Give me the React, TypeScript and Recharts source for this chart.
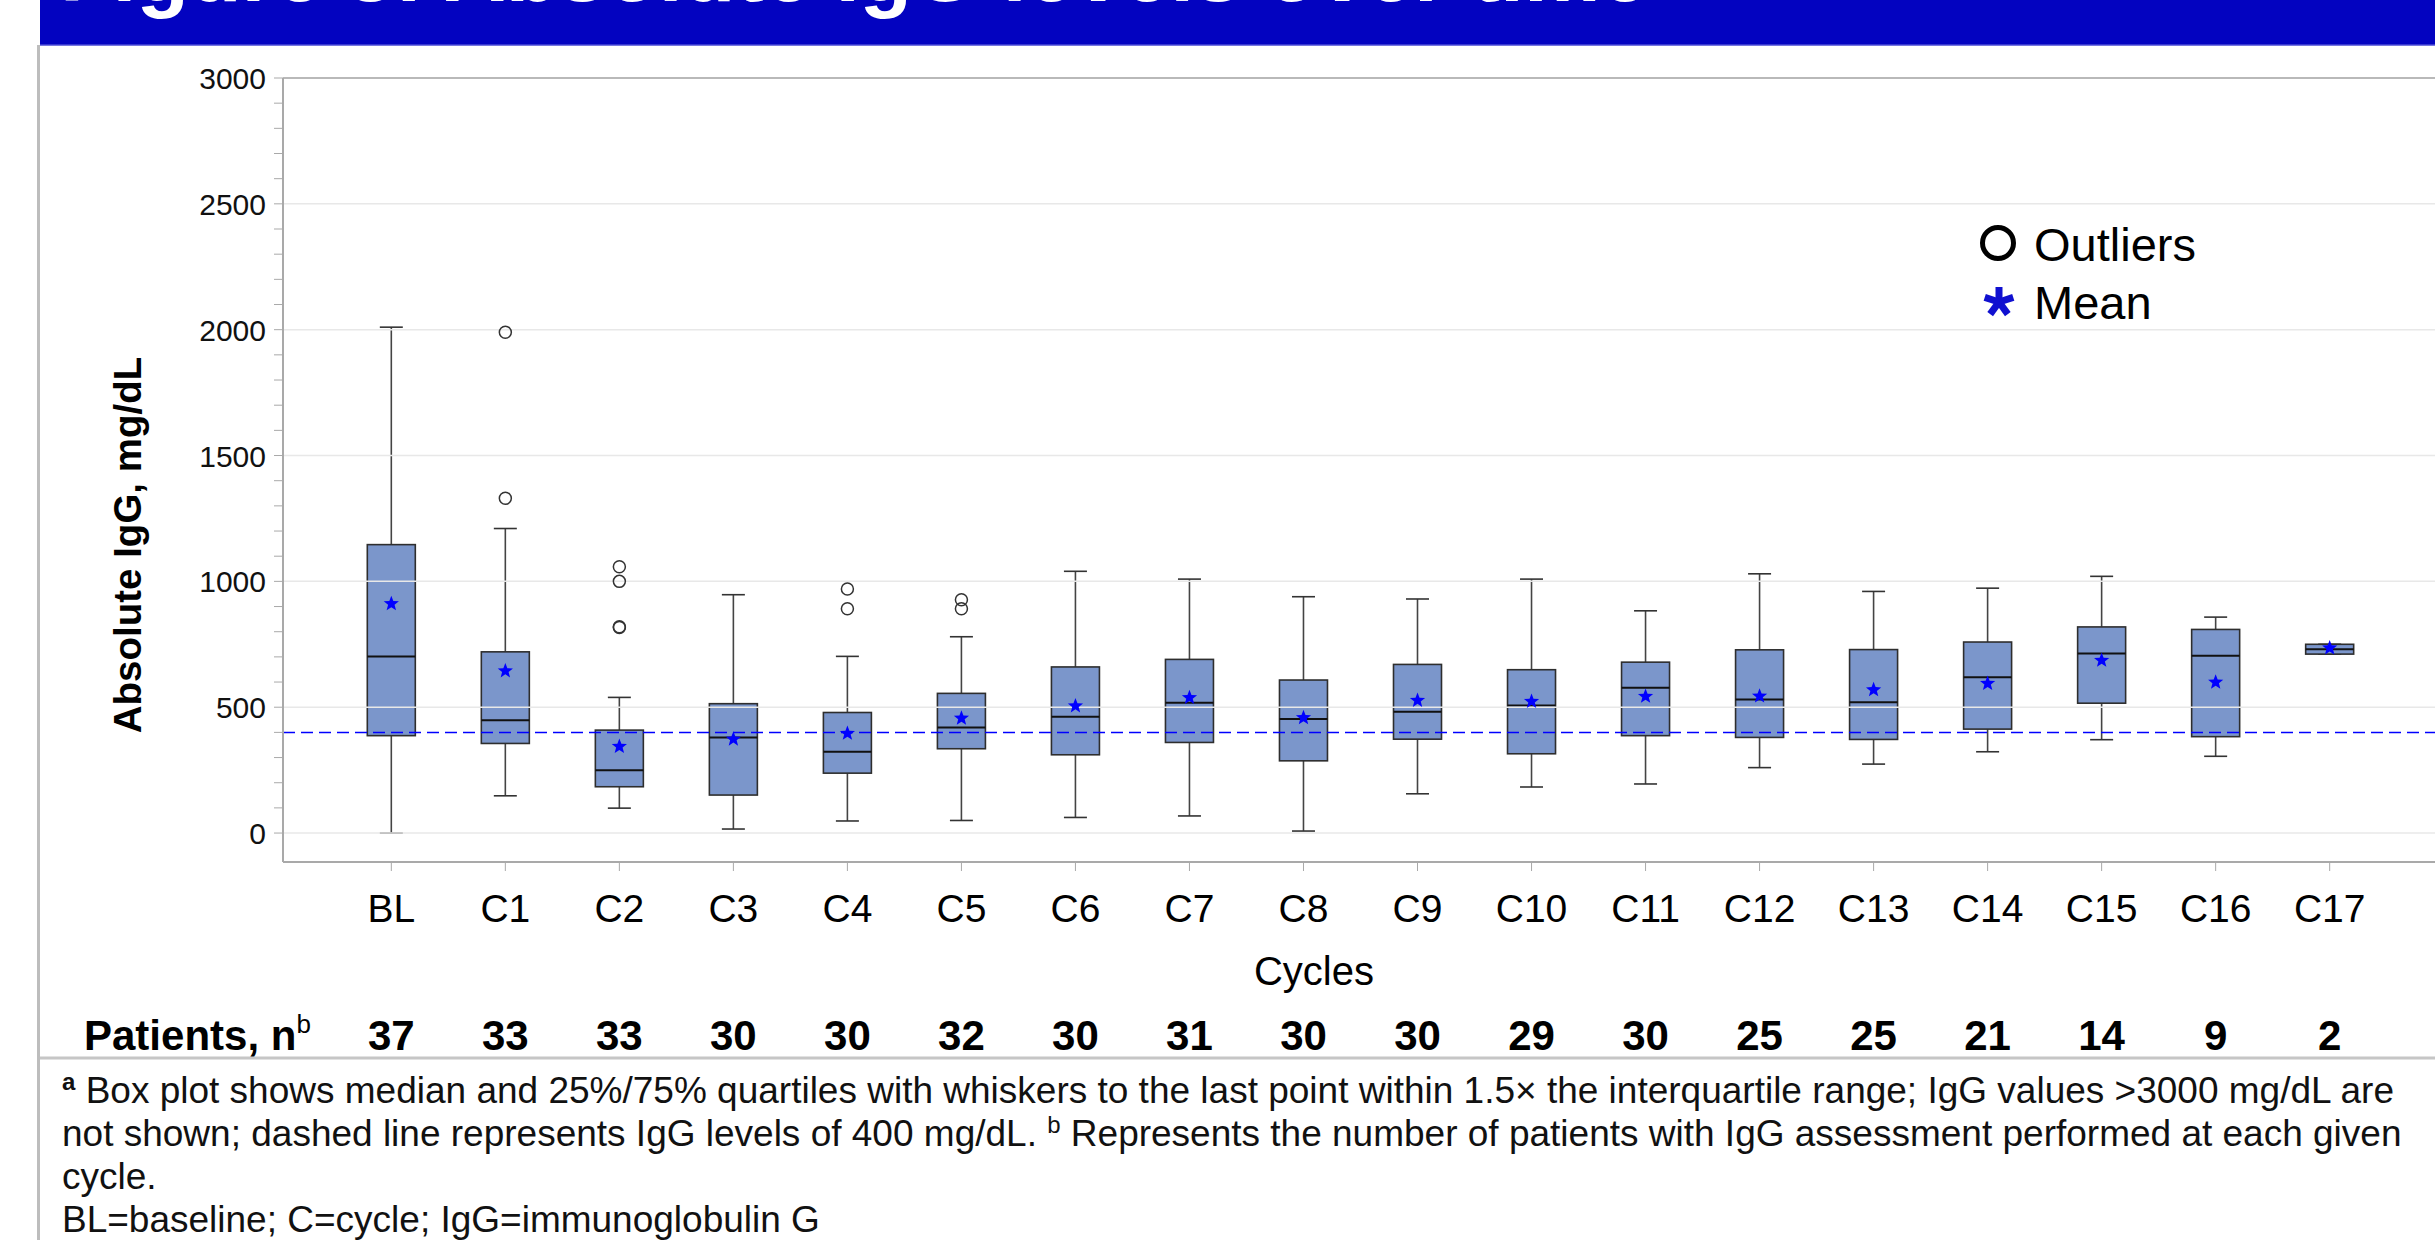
import React from 'react'
import { Bar, ComposedChart, ReferenceLine, Scatter, XAxis, YAxis } from 'recharts'

const CYCLES = ['BL', 'C1', 'C2', 'C3', 'C4', 'C5', 'C6', 'C7', 'C8', 'C9', 'C10', 'C11', 'C12', 'C13', 'C14', 'C15', 'C16', 'C17']
const PATIENTS_N = [37, 33, 33, 30, 30, 32, 30, 31, 30, 30, 29, 30, 25, 25, 21, 14, 9, 2]

const WHISKER_LOW = [0, 148, 99, 16, 48, 50, 62, 68, 8, 156, 183, 195, 260, 274, 323, 371, 305, 711]
const Q1 = [387, 356, 184, 151, 238, 335, 311, 360, 287, 373, 315, 387, 380, 372, 413, 516, 383, 711]
const MEDIAN = [701, 448, 250, 380, 323, 419, 462, 518, 453, 482, 507, 577, 531, 520, 619, 713, 704, 730]
const Q3 = [1146, 720, 409, 514, 479, 555, 660, 690, 608, 670, 649, 679, 728, 729, 759, 819, 809, 750]
const WHISKER_HIGH = [2010, 1210, 539, 947, 702, 780, 1040, 1009, 939, 930, 1009, 883, 1030, 960, 973, 1020, 858, 750]
const MEAN = [911, 644, 344, 373, 396, 456, 505, 538, 458, 527, 523, 543, 544, 569, 594, 686, 599, 735]

const OUTLIERS = [
  { cycle: 'C1', values: [1990, 1330] },
  { cycle: 'C2', values: [1058, 1000, 817, 820] },
  { cycle: 'C4', values: [970, 891] },
  { cycle: 'C5', values: [927, 891] },
]

const Y_LABELS = [0, 500, 1000, 1500, 2000, 2500, 3000]
const Y_MINOR = Array.from({ length: 31 }, (_, i) => i * 100)
const GRID_VALUES = [0, 500, 1000, 1500, 2000, 2500]
const THRESHOLD = 400

const FONT = '"Liberation Sans", Arial, Helvetica, sans-serif'
const AXIS_GREY = '#a9a9a9'
const BOX_FILL = '#7b96cb'
const BOX_EDGE = '#2e2e2e'

const rows = CYCLES.map((c, i) => ({
  x: i,
  cycle: c,
  range: [WHISKER_LOW[i], WHISKER_HIGH[i]],
  low: WHISKER_LOW[i],
  q1: Q1[i],
  med: MEDIAN[i],
  q3: Q3[i],
  high: WHISKER_HIGH[i],
  mean: MEAN[i],
}))

const outlierPoints = OUTLIERS.flatMap((o) =>
  o.values.map((v) => ({ x: CYCLES.indexOf(o.cycle), y: v }))
)

// box + whiskers drawn inside the range bar (low..high), scale taken from the bar itself
function BoxShape(props: any) {
  const { x, y, width, height, payload } = props
  const { low, q1, med, q3, high } = payload
  const k = height / (high - low)
  const py = (v: number) => y + (high - v) * k
  const cx = x + width / 2
  const cap = 11.5
  return (
    <g>
      <line x1={cx} x2={cx} y1={py(high)} y2={py(q3)} stroke="#444" strokeWidth={1.6} />
      <line x1={cx} x2={cx} y1={py(q1)} y2={py(low)} stroke="#444" strokeWidth={1.6} />
      <line x1={cx - cap} x2={cx + cap} y1={py(high)} y2={py(high)} stroke="#333" strokeWidth={1.6} />
      <line x1={cx - cap} x2={cx + cap} y1={py(low)} y2={py(low)} stroke="#333" strokeWidth={1.6} />
      <rect x={x} y={py(q3)} width={width} height={py(q1) - py(q3)} fill={BOX_FILL} stroke={BOX_EDGE} strokeWidth={1.6} />
      <line x1={x} x2={x + width} y1={py(med)} y2={py(med)} stroke="#111" strokeWidth={2} />
    </g>
  )
}

function StarShape({ cx, cy }: any) {
  const pts: string[] = []
  for (let i = 0; i < 10; i++) {
    const r = i % 2 === 0 ? 8 : 3.4
    const a = -Math.PI / 2 + (i * Math.PI) / 5
    pts.push(`${cx + r * Math.cos(a)},${cy + r * Math.sin(a)}`)
  }
  return <polygon points={pts.join(' ')} fill="#0000ff" />
}

function OutlierShape({ cx, cy }: any) {
  return <circle cx={cx} cy={cy} r={6} fill="none" stroke="#333" strokeWidth={1.5} />
}

function CycleTick({ x, y, payload }: any) {
  const i = payload.value
  return (
    <g>
      <text x={x} y={y + 51} textAnchor="middle" fontSize={39} fontFamily={FONT} fill="#000">
        {CYCLES[i]}
      </text>
      <text x={x} y={y + 179} textAnchor="middle" fontSize={42} fontWeight="bold" fontFamily={FONT} fill="#000">
        {PATIENTS_N[i]}
      </text>
    </g>
  )
}

function ValueTick({ x, y, payload }: any) {
  if (!Y_LABELS.includes(payload.value)) return <g />
  return (
    <text x={x} y={y + 11} textAnchor="end" fontSize={30} fontFamily={FONT} fill="#111">
      {payload.value}
    </text>
  )
}

function asteriskArms(cx: number, cy: number, len: number) {
  return [0, 1, 2, 3, 4].map((i) => {
    const a = -Math.PI / 2 + (i * 2 * Math.PI) / 5
    return <line key={i} x1={cx} y1={cy} x2={cx + len * Math.cos(a)} y2={cy + len * Math.sin(a)} stroke="#1010d0" strokeWidth={7} />
  })
}

export default function App() {
  return (
    <div
      style={{
        position: 'fixed',
        left: 0,
        top: 0,
        width: 2435,
        height: 1240,
        overflow: 'hidden',
        background: '#fff',
        fontFamily: FONT,
      }}
    >
      <div style={{ position: 'absolute', left: 0, top: 0 }}>
        <ComposedChart width={2450} height={1060} data={rows} margin={{ top: 78, right: 12, bottom: 0, left: 183 }}>
          <XAxis
            dataKey="x"
            type="number"
            domain={[-0.95, 17.95]}
            ticks={CYCLES.map((_, i) => i)}
            allowDataOverflow
            interval={0}
            height={198}
            tickSize={9}
            tickMargin={0}
            axisLine={{ stroke: AXIS_GREY, strokeWidth: 2 }}
            tickLine={{ stroke: AXIS_GREY }}
            tick={<CycleTick />}
          />
          <YAxis
            type="number"
            domain={[-115, 3000]}
            ticks={Y_MINOR}
            allowDataOverflow
            interval={0}
            width={100}
            tickSize={9}
            tickMargin={8}
            axisLine={{ stroke: AXIS_GREY, strokeWidth: 2 }}
            tickLine={{ stroke: AXIS_GREY }}
            tick={<ValueTick />}
          />
          {GRID_VALUES.map((v) => (
            <ReferenceLine key={v} y={v} stroke="#e8e8e8" strokeWidth={1.5} />
          ))}
          <ReferenceLine y={3000} stroke="#b9b9b9" strokeWidth={2} />
          <Bar dataKey="range" barSize={48} shape={<BoxShape />} isAnimationActive={false} />
          <ReferenceLine y={THRESHOLD} stroke="#0000ff" strokeWidth={1.5} strokeDasharray="12 6" />
          <Scatter data={outlierPoints} dataKey="y" shape={<OutlierShape />} isAnimationActive={false} />
          <Scatter data={rows} dataKey="mean" shape={<StarShape />} isAnimationActive={false} />
        </ComposedChart>
      </div>

      <svg width={2435} height={1240} style={{ position: 'absolute', left: 0, top: 0, pointerEvents: 'none' }}>
        {/* title banner, text cut off by the slide edge */}
        <rect x={40} y={0} width={2395} height={45} fill="#0303c0" />
        <line x1={40} x2={2435} y1={45} y2={45} stroke="#4a4ad6" strokeWidth={1.5} />
        <text x={60} y={1} fontSize={86} fontWeight="bold" fill="#fff" fontFamily={FONT}>
          Figure 3: Absolute IgG levels over time
        </text>
        <line x1={38.5} x2={38.5} y1={45} y2={1240} stroke="#bdbdbd" strokeWidth={3} />
        <line x1={40} x2={2435} y1={1058} y2={1058} stroke="#c6c6c6" strokeWidth={3} />

        <text
          x={127}
          y={545}
          transform="rotate(-90 127 545)"
          textAnchor="middle"
          dominantBaseline="central"
          fontSize={38.5}
          fontWeight="bold"
          fontFamily={FONT}
        >
          Absolute IgG, mg/dL
        </text>

        <text x={1314} y={985} textAnchor="middle" fontSize={40} fontFamily={FONT}>
          Cycles
        </text>

        <text x={84} y={1050} fontSize={42} fontWeight="bold" fontFamily={FONT}>
          Patients, n
          <tspan fontSize={26} fontWeight="normal" dy={-17}>b</tspan>
        </text>

        {/* legend */}
        <circle cx={1998} cy={243} r={15.5} fill="none" stroke="#000" strokeWidth={5} />
        <text x={2034} y={261} fontSize={47} fontFamily={FONT}>Outliers</text>
        {asteriskArms(1999, 302, 15)}
        <text x={2034} y={319} fontSize={47} fontFamily={FONT}>Mean</text>

        {/* footnotes */}
        <g fontSize={37} fontFamily={FONT} fill="#111">
          <text x={62} y={1103}>
            <tspan fontSize={24} fontWeight="bold" dy={-13}>a</tspan>
            <tspan dy={13}> Box plot shows median and 25%/75% quartiles with whiskers to the last point within 1.5× the interquartile range; IgG values &gt;3000 mg/dL are</tspan>
          </text>
          <text x={62} y={1146}>
            not shown; dashed line represents IgG levels of 400 mg/dL.{' '}
            <tspan fontSize={24} dy={-13}>b</tspan>
            <tspan dy={13}> Represents the number of patients with IgG assessment performed at each given</tspan>
          </text>
          <text x={62} y={1189}>cycle.</text>
          <text x={62} y={1232}>BL=baseline; C=cycle; IgG=immunoglobulin G</text>
        </g>
      </svg>
    </div>
  )
}
